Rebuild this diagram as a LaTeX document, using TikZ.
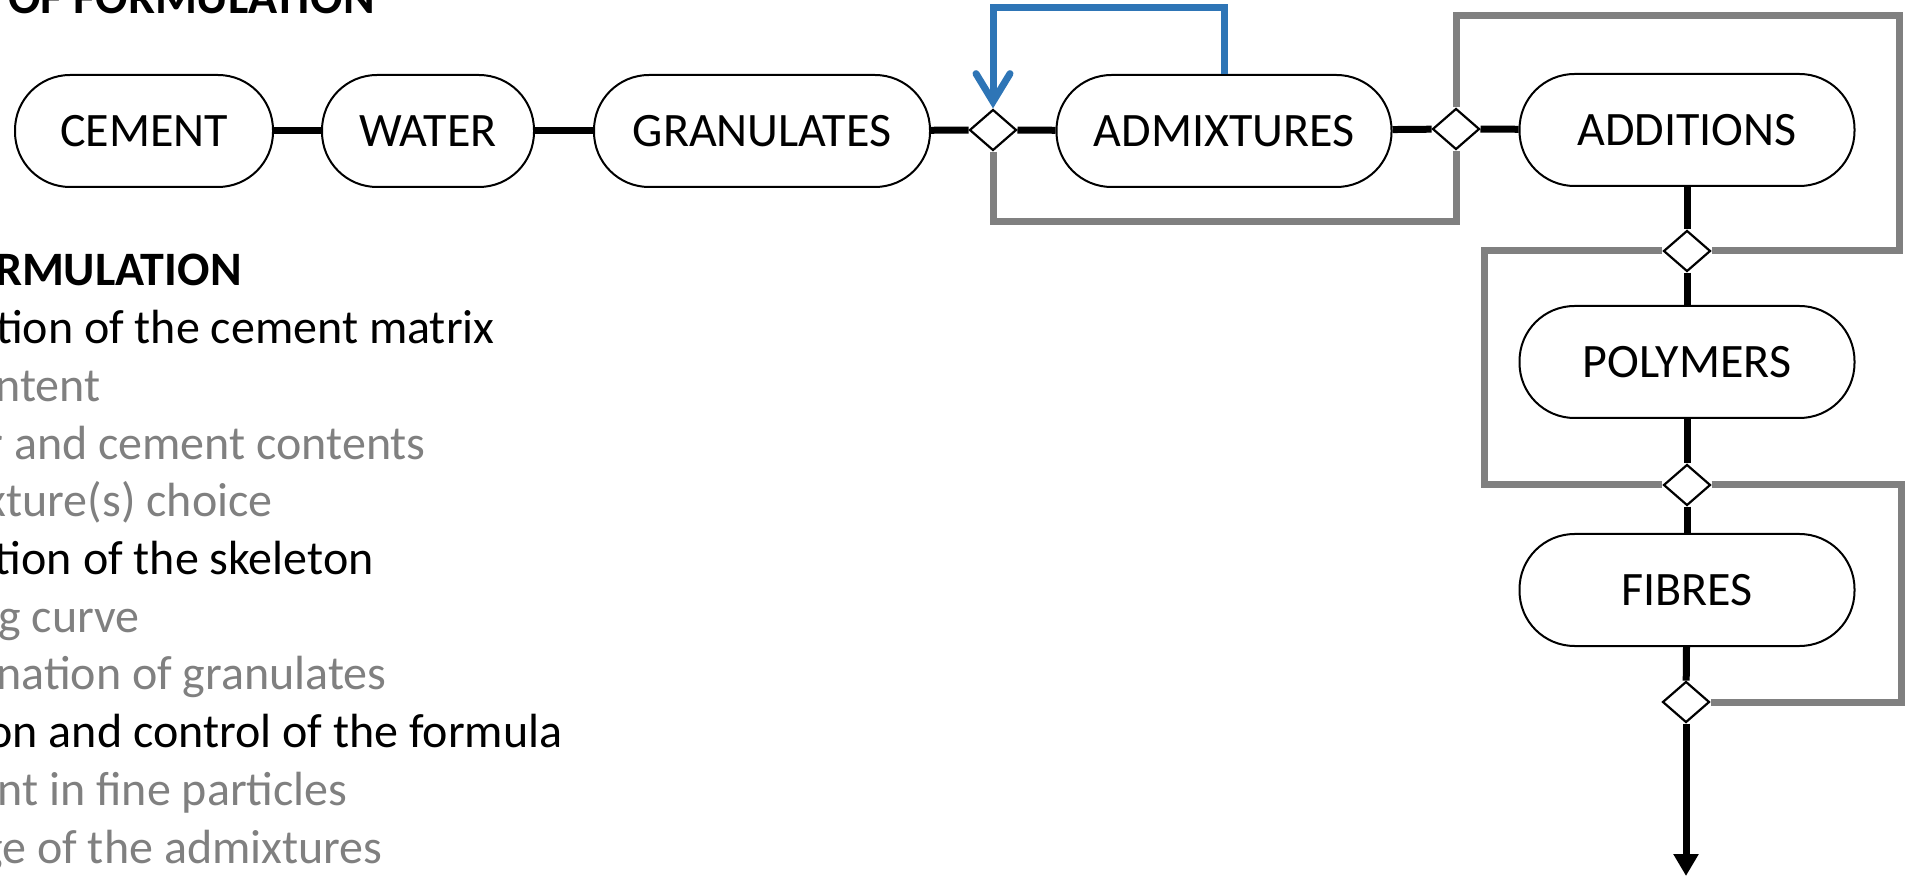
\documentclass[tikz,border=0pt]{standalone}
\usepackage{fontspec}
\setmainfont{Carlito}
\usetikzlibrary{shapes.geometric,arrows.meta}
\definecolor{midgray}{RGB}{128,128,128}
\definecolor{linkblue}{RGB}{46,117,182}

\begin{document}
\begin{tikzpicture}[x=.5pt, y=-.5pt,
	stage/.style={draw, line width=1pt, rounded corners=27.5pt, minimum height=56pt, inner sep=0pt, font=\fontsize{24}{29}\selectfont},
	gate/.style={draw, diamond, fill=white, line width=1.1pt, minimum width=23.5pt, minimum height=20.5pt, inner sep=0pt},
	flow/.style={line width=3.5pt},
	bypass/.style={line width=3.5pt, midgray},
	item/.style={anchor=base east, inner sep=0pt, font=\fontsize{24}{29}\selectfont}]
	\useasboundingbox (0,0) rectangle (1911,876);
	\clip (0,0) rectangle (1911,876);

	% list on the left
	\node[item, font=\fontsize{24}{29}\selectfont\bfseries] (title) at (375,14) {S OF FORMULATION};
	\node[item, font=\fontsize{24}{29}\selectfont\bfseries] (l0) at (242,286) {RMULATION};
	\foreach \x/\col/\txt [count=\k] in {495/black/tion of the cement matrix, 101/midgray/ntent,
		426/midgray/r and cement contents, 273/midgray/xture(s) choice, 374/black/tion of the skeleton,
		140/midgray/g curve, 387/midgray/nation of granulates, 563/black/on and control of the formula,
		348/midgray/nt in fine particles, 383/midgray/ge of the admixtures}{
		\node[item, text=\col] (l\k) at (\x,286+57.7*\k) {\txt};
	}

	% constituents
	\node[stage, minimum width=129pt] (cement) at (144,131) {CEMENT};
	\node[stage, minimum width=106pt] (water) at (428,131) {WATER};
	\node[stage, minimum width=168pt] (granul) at (762,131) {GRANULATES};
	\node[gate] (d1) at (993,130) {};
	\node[stage, minimum width=167.5pt] (admix) at (1224,131) {ADMIXTURES};
	\node[gate] (d2) at (1456,129) {};
	\node[stage, minimum width=167.5pt] (addit) at (1687,130) {ADDITIONS};
	\node[gate] (d3) at (1687,251) {};
	\node[stage, minimum width=167.5pt] (polym) at (1687,362) {POLYMERS};
	\node[gate] (d4) at (1687,485) {};
	\node[stage, minimum width=167.5pt] (fibre) at (1687,590) {FIBRES};
	\node[gate] (d5) at (1686,702) {};
	\coordinate (out) at (1686,876);

	\draw[flow] (cement) -- (water);
	\draw[flow] (water) -- (granul);
	\draw[flow] (granul) -- (d1);
	\draw[flow] (d1) -- (admix);
	\draw[flow] (admix) -- (d2);
	\draw[flow] (d2) -- (addit);
	\draw[flow] (addit) -- (d3);
	\draw[flow] (d3) -- (polym);
	\draw[flow] (polym) -- (d4);
	\draw[flow] (d4) -- (fibre);
	\draw[flow] (fibre) -- (d5);
	\draw[flow, -{Triangle[width=12pt, length=11pt]}] (d5) -- (out);

	% optional constituents
	\draw[bypass] (d1.south) -- (d1 |- 0,222) -| (d2.south);
	\draw[bypass] (d2.north) |- (1899,16) |- (d3.east);
	\draw[bypass] (d3.west) -| (1484,485) -- (d4.west);
	\draw[bypass] (d4.east) -| (1901,702) -- (d5.east);
	\draw[line width=3.5pt, linkblue, -{Straight Barb[width=17pt, length=14pt, line cap=round]}] (admix.north) |- (993,8) -- (d1.north);
\end{tikzpicture}
\end{document}
